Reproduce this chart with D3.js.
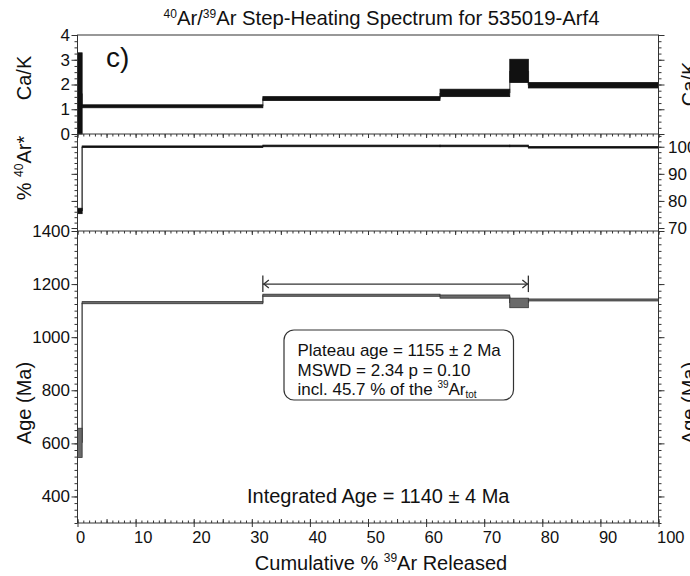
<!doctype html>
<html>
<head>
<meta charset="utf-8">
<script src="https://cdn.jsdelivr.net/npm/d3@7"></script>
<style>
  body { margin: 0; background: #fff; }
  svg { display: block; font-family: "Liberation Sans", Arial, sans-serif; }
  .tick line { stroke: #333; }
</style>
</head>
<body>
<script>
// step boundaries, cumulative % 39Ar released
const stepEdges = [0, 0.8, 31.9, 62.4, 74.4, 77.6, 100];
// Ca/K per step (value, 1 sigma)
const caK = [1.64, 1.12, 1.43, 1.66, 2.55, 1.97];
const caKErr = [1.64, 0.06, 0.08, 0.15, 0.47, 0.11];
// % radiogenic 40Ar
const radAr = [76.3, 100.0, 100.3, 100.3, 100.3, 99.8];
const radArErr = [1.0, 0.3, 0.3, 0.3, 0.3, 0.3];
// apparent age (Ma)
const age = [602, 1130, 1158, 1153, 1129, 1141];
const ageErr = [55, 4, 4, 6, 18, 3];
// plateau steps and arrow level
const plateauRange = [31.9, 77.6];
const plateauArrowAge = 1200;

const xTicks = d3.range(0, 101, 10);
const caKTicks = [0, 1, 2, 3, 4];
const radArTicks = [70, 80, 90, 100];
const ageTicks = [400, 600, 800, 1000, 1200, 1400];

const W = 690, H = 576;
const left = 77.5, right = 658.5;

const x = d3.scaleLinear([0, 100], [left, right]);
const yCa = d3.scaleLinear([0, 4], [134, 35]);
const yAr = d3.scaleLinear([68.9, 104.7], [231, 134]);
const yAge = d3.scaleLinear([300, 1400], [523, 231]);

const steps = stepEdges.slice(0, -1).map((x0, i) => ({
  x0, x1: stepEdges[i + 1],
  ca: caK[i], caE: caKErr[i],
  ar: radAr[i], arE: radArErr[i],
  age: age[i], ageE: ageErr[i]
}));

const svg = d3.select("body").append("svg")
    .attr("width", W).attr("height", H);

// ---- step boxes ----
function drawSteps(y, key, errKey, fill, stroke, conn, minH) {
  const g = svg.append("g");
  const [d0, d1] = y.domain();
  // connectors at step boundaries
  g.selectAll("line.conn").data(steps.slice(1)).join("line")
      .attr("x1", d => x(d.x0)).attr("x2", d => x(d.x0))
      .attr("y1", (d, i) => y(steps[i][key]))
      .attr("y2", d => y(d[key]))
      .attr("stroke", conn).attr("stroke-width", 1.5);
  g.selectAll("rect").data(steps).join("rect")
      .attr("x", d => x(d.x0))
      .attr("width", d => x(d.x1) - x(d.x0))
      .attr("y", d => y(Math.min(d1, d[key] + d[errKey])))
      .attr("height", d => Math.max(minH,
          y(Math.max(d0, d[key] - d[errKey])) - y(Math.min(d1, d[key] + d[errKey]))))
      .attr("fill", fill)
      .attr("stroke", stroke).attr("stroke-width", 0.8);
}
drawSteps(yCa, "ca", "caE", "#111", "#111", "#777", 2);
drawSteps(yAr, "ar", "arE", "#111", "#111", "#444", 1.6);
drawSteps(yAge, "age", "ageE", "#6a6a6a", "#333", "#555", 2);

// ---- frame ----
svg.append("rect")
    .attr("x", left).attr("y", yCa(4))
    .attr("width", right - left).attr("height", yAge(300) - yCa(4))
    .attr("fill", "none").attr("stroke", "#333");
[yCa(0), yAr.range()[0]].forEach(yy => {
  svg.append("line").attr("x1", left).attr("x2", right)
      .attr("y1", yy).attr("y2", yy).attr("stroke", "#333");
});

// ---- axes ----
function addAxis(axis, tx, ty) {
  const g = svg.append("g").attr("transform", `translate(${tx},${ty})`).call(axis);
  g.select(".domain").remove();
  return g;
}
const noLab = () => "";

// bottom x axis
addAxis(d3.axisBottom(x).tickValues(d3.range(0, 101, 1)).tickSize(-2.5).tickFormat(noLab), 0, yAge(300));
addAxis(d3.axisBottom(x).tickValues(d3.range(0, 101, 5)).tickSize(-4).tickFormat(noLab), 0, yAge(300));
const xAx = addAxis(d3.axisBottom(x).tickValues(xTicks).tickSize(4).tickPadding(4.5), 0, yAge(300));
xAx.selectAll("text").attr("text-anchor", "start").attr("x", -2)
    .attr("font-size", 16.5).attr("font-family", null).attr("fill", "#111");

// ticks on the panel separators (pointing down)
[yCa(0), yAr.range()[0]].forEach(yy => {
  addAxis(d3.axisTop(x).tickValues(d3.range(0, 101, 1)).tickSize(-2.5).tickFormat(noLab), 0, yy);
  addAxis(d3.axisTop(x).tickValues(d3.range(0, 101, 5)).tickSize(-4).tickFormat(noLab), 0, yy);
});

function yAxes(y, minorStep, majors, labelLeft, labelRight) {
  const [d0, d1] = y.domain();
  const minors = d3.range(Math.ceil(d0 / minorStep) * minorStep, d1 + 1e-9, minorStep);
  addAxis(d3.axisLeft(y).tickValues(minors).tickSize(3).tickFormat(noLab), left, 0);
  addAxis(d3.axisRight(y).tickValues(minors).tickSize(3).tickFormat(noLab), right, 0);
  const la = addAxis(d3.axisLeft(y).tickValues(majors).tickSize(6).tickPadding(1.5)
      .tickFormat(labelLeft ? d3.format("d") : noLab), left, 0);
  const ra = addAxis(d3.axisRight(y).tickValues(majors).tickSize(6).tickPadding(3.5)
      .tickFormat(labelRight ? d3.format("d") : noLab), right, 0);
  [la, ra].forEach(g => g.selectAll("text")
      .attr("font-size", 17).attr("font-family", null).attr("fill", "#111"));
}
yAxes(yCa, 0.25, caKTicks, true, false);
yAxes(yAr, 2, radArTicks, false, true);
yAxes(yAge, 25, ageTicks, true, false);

// ---- plateau arrow ----
const ya = yAge(plateauArrowAge);
const xa0 = x(plateauRange[0]), xa1 = x(plateauRange[1]);
const pg = svg.append("g").attr("stroke", "#333").attr("stroke-width", 1.3).attr("fill", "none");
pg.append("line").attr("x1", xa0).attr("x2", xa1).attr("y1", ya).attr("y2", ya);
[xa0, xa1].forEach(xx => pg.append("line").attr("x1", xx).attr("x2", xx).attr("y1", ya - 8.5).attr("y2", ya + 8));
pg.append("path").attr("d", `M${xa0 + 6},${ya - 4}L${xa0 + 1},${ya}L${xa0 + 6},${ya + 4}`);
pg.append("path").attr("d", `M${xa1 - 6},${ya - 4}L${xa1 - 1},${ya}L${xa1 - 6},${ya + 4}`);

// ---- plateau box ----
svg.append("rect")
    .attr("x", 284).attr("y", 330).attr("width", 229.5).attr("height", 70)
    .attr("rx", 10).attr("fill", "#fff").attr("stroke", "#333").attr("stroke-width", 1.2);
const bt = svg.append("g").attr("font-size", 17).attr("fill", "#111");
bt.append("text").attr("x", 297.5).attr("y", 356).text("Plateau age = 1155 ± 2 Ma");
bt.append("text").attr("x", 297.5).attr("y", 375.5).text("MSWD = 2.34 p = 0.10");
const t3 = bt.append("text").attr("x", 297.5).attr("y", 395);
t3.append("tspan").text("incl. 45.7 % of the ");
t3.append("tspan").attr("font-size", 10).attr("dy", -7).text("39");
t3.append("tspan").attr("dy", 7).text("Ar");
t3.append("tspan").attr("font-size", 10).attr("dy", 3).text("tot");

svg.append("text").attr("x", 247).attr("y", 503).attr("font-size", 20).attr("fill", "#111")
    .text("Integrated Age = 1140 ± 4 Ma");

svg.append("text").attr("x", 106).attr("y", 67).attr("font-size", 28).attr("fill", "#111").text("c)");

// ---- title ----
const title = svg.append("text").attr("x", 381.5).attr("y", 25)
    .attr("text-anchor", "middle").attr("font-size", 20.3).attr("fill", "#111");
title.append("tspan").attr("font-size", 12).attr("dy", -7.5).text("40");
title.append("tspan").attr("dy", 7.5).text("Ar/");
title.append("tspan").attr("font-size", 12).attr("dy", -7.5).text("39");
title.append("tspan").attr("dy", 7.5).text("Ar Step-Heating Spectrum for 535019-Arf4");

// ---- x label ----
const xl = svg.append("text").attr("x", 381).attr("y", 570)
    .attr("text-anchor", "middle").attr("font-size", 20).attr("fill", "#111");
xl.append("tspan").text("Cumulative % ");
xl.append("tspan").attr("font-size", 12).attr("dy", -8).text("39");
xl.append("tspan").attr("dy", 8).text("Ar Released");

// ---- y labels ----
function yLabel(xx, yy, parts) {
  const t = svg.append("text").attr("transform", `translate(${xx},${yy}) rotate(-90)`)
      .attr("text-anchor", "middle").attr("font-size", 20).attr("fill", "#111");
  let raised = false;
  parts.forEach(([s, sup]) => {
    if (sup) { t.append("tspan").attr("font-size", 12).attr("dy", -8).text(s); raised = true; }
    else { t.append("tspan").attr("dy", raised ? 8 : 0).text(s); raised = false; }
  });
}
yLabel(31, 78, [["Ca/K"]]);
yLabel(31, 168, [["% "], ["40", true], ["Ar*"]]);
yLabel(31, 403, [["Age (Ma)"]]);
yLabel(696, 84, [["Ca/K"]]);
yLabel(696, 403, [["Age (Ma)"]]);
</script>
</body>
</html>
